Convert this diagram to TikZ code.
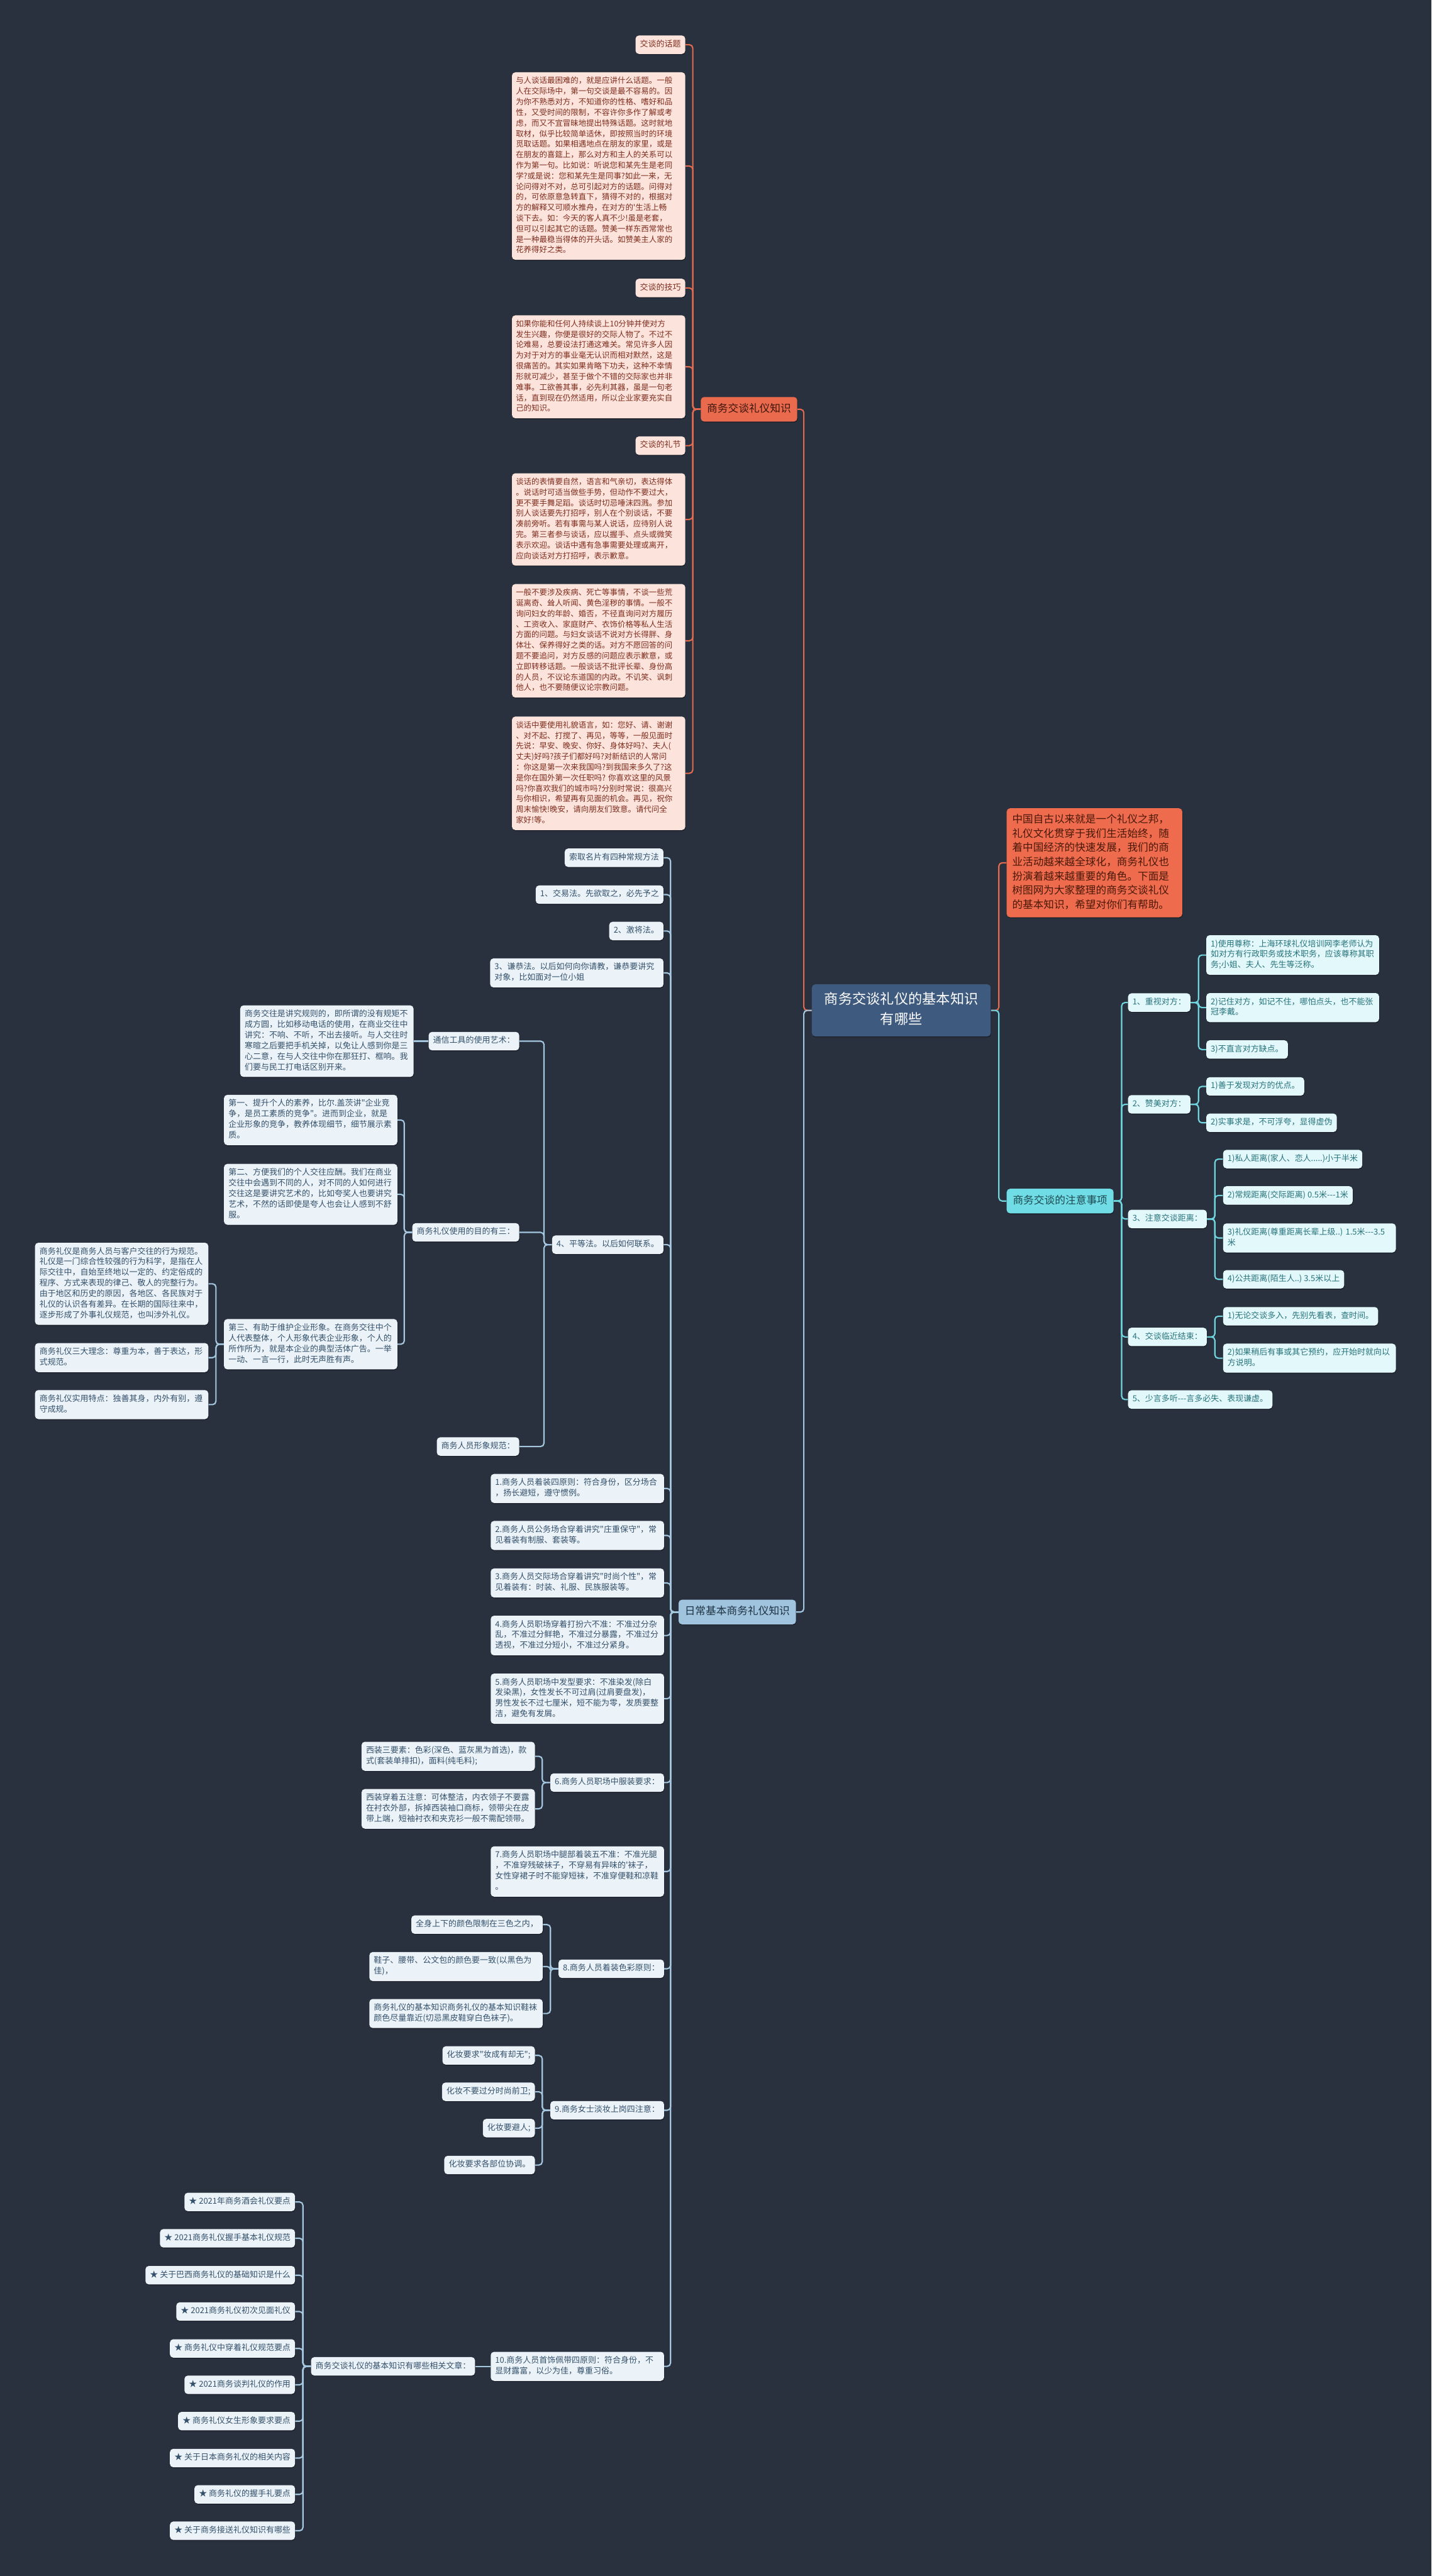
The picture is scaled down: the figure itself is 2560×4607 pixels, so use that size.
\documentclass[tikz,border=0pt]{standalone}
\usepackage{fontspec}
\newfontfamily\cjk{Noto Sans CJK SC}
\usetikzlibrary{shadows}
\definecolor{bg}{HTML}{29313F}
\definecolor{redline}{HTML}{E26B4F}
\definecolor{redn}{HTML}{EA6A4D}
\definecolor{redtext}{HTML}{3B150B}
\definecolor{pinkfill}{HTML}{FCE4DD}
\definecolor{pinktext}{HTML}{7E2C1C}
\definecolor{introfill}{HTML}{EE6C4D}
\definecolor{introtext}{HTML}{4A1808}
\definecolor{rootfill}{HTML}{3E5A7F}
\definecolor{cyanline}{HTML}{6FD5DE}
\definecolor{cyann}{HTML}{70DDE6}
\definecolor{cyandark}{HTML}{1D4850}
\definecolor{cyanfill}{HTML}{E3F8FA}
\definecolor{cyantext}{HTML}{26737C}
\definecolor{blueline}{HTML}{A4C6DE}
\definecolor{bluen}{HTML}{A0C4DD}
\definecolor{bluedark}{HTML}{1E3244}
\definecolor{bluefill}{HTML}{EBF3F9}
\definecolor{bluetext}{HTML}{34506A}
\newcommand\fLeaf{\cjk\fontsize{7.3pt}{9.5pt}\selectfont}
\newcommand\fPara{\cjk\fontsize{7pt}{9.45pt}\selectfont}
\newcommand\fOne{\cjk\fontsize{9.4pt}{12pt}\selectfont}
\newcommand\fIntro{\cjk\fontsize{9.35pt}{12.75pt}\selectfont}
\newcommand\fRoot{\cjk\fontsize{12.5pt}{18pt}\selectfont}
\tikzset{
 box/.style={rounded corners=3pt, inner xsep=4pt, inner ysep=3.5pt, align=left,
   execute at begin node=\strut, execute at end node=\strut,
   drop shadow={shadow xshift=0.4pt, shadow yshift=-0.8pt, opacity=0.35, fill=black}},
 bl/.style={box, fill=bluefill, text=bluetext, font=\fLeaf, anchor=east},
 blw/.style={bl, text width=147pt},
 cy/.style={box, fill=cyanfill, text=cyantext, font=\fLeaf, anchor=west},
 cyw/.style={cy, text width=146.5pt},
 pk/.style={box, fill=pinkfill, text=pinktext, font=\fLeaf, anchor=east},
 pp/.style={box, fill=pinkfill, text=pinktext, font=\fPara, anchor=east, inner xsep=3.5pt, text width=148pt},
 one/.style={box, font=\fOne, inner xsep=5.5pt, inner ysep=5pt},
 rl/.style={draw=redline, line width=1.2pt, rounded corners=3pt},
 cl/.style={draw=cyanline, line width=1.2pt, rounded corners=3pt},
 bline/.style={draw=blueline, line width=1.2pt, rounded corners=3pt},
}
\newcommand\conL[3]{\draw[#1] (#2.west) -- ++(-14,0) |- (#3.east);}
\newcommand\conR[3]{\draw[#1] (#2.east) -- ++(14,0) |- (#3.west);}
\begin{document}
\begin{tikzpicture}[x=0.5pt,y=-0.5pt]
\fill[bg] (0,0) rectangle (2560,4607);
\useasboundingbox (0,0) rectangle (2560,4607);

% root
\node[box, fill=rootfill, text=white, font=\fRoot, align=center, text width=139pt, inner xsep=10.5pt, inner ysep=5.25pt] (root) at (1612,1807) {商务交谈礼仪的基本知识\\有哪些};

% ---------- red branch ----------
\node[one, fill=redn, text=redtext, anchor=west] (R0) at (1253,732) {商务交谈礼仪知识};
\node[pk] (r1) at (1226,80) {交谈的话题};
\node[pp] (p1) at (1226,297) {与人谈话最困难的，就是应讲什么话题。一般\\人在交际场中，第一句交谈是最不容易的。因\\为你不熟悉对方，不知道你的性格、嗜好和品\\性，又受时间的限制，不容许你多作了解或考\\虑，而又不宜冒昧地提出特殊话题。这时就地\\取材，似乎比较简单适休，即按照当时的环境\\觅取话题。如果相遇地点在朋友的家里，或是\\在朋友的喜筵上，那么对方和主人的关系可以\\作为第一句。比如说：听说您和某先生是老同\\学?或是说：您和某先生是同事?如此一来，无\\论问得对不对，总可引起对方的话题。问得对\\的，可依原意急转直下，猜得不对的，根据对\\方的解释又可顺水推舟，在对方的'生活上畅\\谈下去。如：今天的客人真不少!虽是老套，\\但可以引起其它的话题。赞美一样东西常常也\\是一种最稳当得体的开头话。如赞美主人家的\\花养得好之类。};
\node[pk] (r2) at (1226,515) {交谈的技巧};
\node[pp] (p2) at (1226,656) {如果你能和任何人持续谈上10分钟并使对方\\发生兴趣，你便是很好的交际人物了。不过不\\论难易，总要设法打通这难关。常见许多人因\\为对于对方的事业毫无认识而相对默然，这是\\很痛苦的。其实如果肯略下功夫，这种不幸情\\形就可减少，甚至于做个不错的交际家也并非\\难事。工欲善其事，必先利其器，虽是一句老\\话，直到现在仍然适用，所以企业家要充实自\\己的知识。};
\node[pk] (r3) at (1226,797) {交谈的礼节};
\node[pp] (p3) at (1226,929) {谈话的表情要自然，语言和气亲切，表达得体\\。说话时可适当做些手势，但动作不要过大，\\更不要手舞足蹈。谈话时切忌唾沫四溅。参加\\别人谈话要先打招呼，别人在个别谈话，不要\\凑前旁听。若有事需与某人说话，应待别人说\\完。第三者参与谈话，应以握手、点头或微笑\\表示欢迎。谈话中遇有急事需要处理或离开，\\应向谈话对方打招呼，表示歉意。};
\node[pp] (p4) at (1226,1146) {一般不要涉及疾病、死亡等事情，不谈一些荒\\诞离奇、耸人听闻、黄色淫秽的事情。一般不\\询问妇女的年龄、婚否，不径直询问对方履历\\、工资收入、家庭财产、衣饰价格等私人生活\\方面的问题。与妇女谈话不说对方长得胖、身\\体壮、保养得好之类的话。对方不愿回答的问\\题不要追问，对方反感的问题应表示歉意，或\\立即转移话题。一般谈话不批评长辈、身份高\\的人员，不议论东道国的内政。不讥笑、讽刺\\他人，也不要随便议论宗教问题。};
\node[pp] (p5) at (1226,1383) {谈话中要使用礼貌语言，如：您好、请、谢谢\\、对不起、打搅了、再见，等等，一般见面时\\先说：早安、晚安、你好、身体好吗?、夫人(\\丈夫)好吗?孩子们都好吗?对新结识的人常问\\：你这是第一次来我国吗?到我国来多久了?这\\是你在国外第一次任职吗?~你喜欢这里的风景\\吗?你喜欢我们的城市吗?分别时常说：很高兴\\与你相识，希望再有见面的机会。再见，祝你\\周末愉快!晚安，请向朋友们致意。请代问全\\家好!等。};

% ---------- intro ----------
\node[box, fill=introfill, text=introtext, font=\fIntro, anchor=west, text width=147pt, inner xsep=5pt, inner ysep=4.1pt] (intro) at (1800,1543) {中国自古以来就是一个礼仪之邦，\\礼仪文化贯穿于我们生活始终，随\\着中国经济的快速发展，我们的商\\业活动越来越全球化，商务礼仪也\\扮演着越来越重要的角色。下面是\\树图网为大家整理的商务交谈礼仪\\的基本知识，希望对你们有帮助。};

% ---------- cyan branch ----------
\node[one, fill=cyann, text=cyandark, anchor=west] (C0) at (1800,2148) {商务交谈的注意事项};
\node[cy] (c1) at (2017,1793) {1、重视对方：};
\node[cyw] (c1a) at (2157,1708) {1)使用尊称：上海环球礼仪培训网李老师认为\\如对方有行政职务或技术职务，应该尊称其职\\务;小姐、夫人、先生等泛称。};
\node[cyw] (c1b) at (2157,1802) {2)记住对方，如记不住，哪怕点头，也不能张\\冠李戴。};
\node[cy] (c1c) at (2157,1877) {3)不直言对方缺点。};
\node[cy] (c2) at (2017,1975) {2、赞美对方：};
\node[cy] (c2a) at (2157,1943) {1)善于发现对方的优点。};
\node[cy] (c2b) at (2157,2008) {2)实事求是，不可浮夸，显得虚伪};
\node[cy] (c3) at (2017,2180) {3、注意交谈距离：};
\node[cy] (c3a) at (2187,2073) {1)私人距离(家人、恋人.....)小于半米};
\node[cy] (c3b) at (2187,2138) {2)常规距离(交际距离)~0.5米---1米};
\node[cyw] (c3c) at (2187,2214) {3)礼仪距离(尊重距离长辈上级..)~1.5米---3.5\\米};
\node[cy] (c3d) at (2187,2288) {4)公共距离(陌生人..)~3.5米以上};
\node[cy] (c4) at (2017,2391) {4、交谈临近结束：};
\node[cy] (c4a) at (2187,2354) {1)无论交谈多入，先别先看表，查时间。};
\node[cyw] (c4b) at (2187,2429) {2)如果稍后有事或其它预约，应开始时就向以\\方说明。};
\node[cy] (c5) at (2017,2503) {5、少言多听---言多必失、表现谦虚。};

% ---------- blue branch ----------
\node[one, fill=bluen, text=bluedark, anchor=east] (B0) at (1424,2883) {日常基本商务礼仪知识};
\node[bl] (b1) at (1187,1534) {索取名片有四种常规方法};
\node[bl] (b2) at (1187,1600) {1、交易法。先欲取之，必先予之};
\node[bl] (b3) at (1187,1665) {2、激将法。};
\node[blw] (b4) at (1187,1740) {3、谦恭法。以后如何向你请教，谦恭要讲究\\对象，比如面对一位小姐};
\node[bl] (b5) at (1187,2226) {4、平等法。以后如何联系。};
\node[bl] (b51) at (929,1862) {通信工具的使用艺术：};
\node[blw] (b511) at (740,1862) {商务交往是讲究规则的，即所谓的没有规矩不\\成方圆，比如移动电话的使用，在商业交往中\\讲究：不响、不听，不出去接听。与人交往时\\寒暄之后要把手机关掉，以免让人感到你是三\\心二意，在与人交往中你在那狂打、框响。我\\们要与民工打电话区别开来。};
\node[bl] (b52) at (929,2204) {商务礼仪使用的目的有三：};
\node[blw] (b521) at (711,2003) {第一、提升个人的素养，比尔.盖茨讲"企业竞\\争，是员工素质的竞争"。进而到企业，就是\\企业形象的竞争，教养体现细节，细节展示素\\质。};
\node[blw] (b522) at (711,2136) {第二、方便我们的个人交往应酬。我们在商业\\交往中会遇到不同的人，对不同的人如何进行\\交往这是要讲究艺术的，比如夸奖人也要讲究\\艺术，不然的话即使是夸人也会让人感到不舒\\服。};
\node[blw] (b523) at (711,2404) {第三、有助于维护企业形象。在商务交往中个\\人代表整体，个人形象代表企业形象，个人的\\所作所为，就是本企业的典型活体广告。一举\\一动、一言一行，此时无声胜有声。};
\node[blw] (b5231) at (373,2296) {商务礼仪是商务人员与客户交往的行为规范。\\礼仪是一门综合性较强的行为科学，是指在人\\际交往中，自始至终地以一定的、约定俗成的\\程序、方式来表现的律己、敬人的完整行为。\\由于地区和历史的原因，各地区、各民族对于\\礼仪的认识各有差异。在长期的国际往来中，\\逐步形成了外事礼仪规范，也叫涉外礼仪。};
\node[blw] (b5232) at (373,2428) {商务礼仪三大理念：尊重为本，善于表达，形\\式规范。};
\node[blw] (b5233) at (373,2512) {商务礼仪实用特点：独善其身，内外有别，遵\\守成规。};
\node[bl] (b53) at (929,2587) {商务人员形象规范：};
\node[blw] (b6) at (1188,2662) {1.商务人员着装四原则：符合身份，区分场合\\，扬长避短，遵守惯例。};
\node[blw] (b7) at (1188,2746) {2.商务人员公务场合穿着讲究"庄重保守"，常\\见着装有制服、套装等。};
\node[blw] (b8) at (1188,2831) {3.商务人员交际场合穿着讲究"时尚个性"，常\\见着装有：时装、礼服、民族服装等。};
\node[blw] (b9) at (1188,2925) {4.商务人员职场穿着打扮六不准：不准过分杂\\乱，不准过分鲜艳，不准过分暴露，不准过分\\透视，不准过分短小，不准过分紧身。};
\node[blw] (b10) at (1188,3038) {5.商务人员职场中发型要求：不准染发(除白\\发染黑)，女性发长不可过肩(过肩要盘发)，\\男性发长不过七厘米，短不能为零，发质要整\\洁，避免有发屑。};
\node[bl] (b11) at (1188,3188) {6.商务人员职场中服装要求：};
\node[blw] (b111) at (957,3141) {西装三要素：色彩(深色、蓝灰黑为首选)，款\\式(套装单排扣)，面料(纯毛料);};
\node[blw] (b112) at (957,3235) {西装穿着五注意：可体整洁，内衣领子不要露\\在衬衣外部，拆掉西装袖口商标，领带尖在皮\\带上端，短袖衬衣和夹克衫一般不需配领带。};
\node[blw] (b12) at (1188,3347) {7.商务人员职场中腿部着装五不准：不准光腿\\，不准穿残破袜子，不穿易有异味的'袜子，\\女性穿裙子时不能穿短袜，不准穿便鞋和凉鞋\\。};
\node[bl] (b13) at (1188,3521) {8.商务人员着装色彩原则：};
\node[bl] (b131) at (971,3442) {全身上下的颜色限制在三色之内，};
\node[blw] (b132) at (971,3517) {鞋子、腰带、公文包的颜色要一致(以黑色为\\佳)，};
\node[blw] (b133) at (971,3601) {商务礼仪的基本知识商务礼仪的基本知识鞋袜\\颜色尽量靠近(切忌黑皮鞋穿白色袜子)。};
\node[bl] (b14) at (1188,3774) {9.商务女士淡妆上岗四注意：};
\node[bl] (b141) at (957,3676) {化妆要求"妆成有却无";};
\node[bl] (b142) at (957,3741) {化妆不要过分时尚前卫;};
\node[bl] (b143) at (957,3806) {化妆要避人;};
\node[bl] (b144) at (957,3872) {化妆要求各部位协调。};
\node[blw] (b15) at (1188,4232) {10.商务人员首饰佩带四原则：符合身份，不\\显财露富，以少为佳，尊重习俗。};
\node[bl] (b151) at (850,4232) {商务交谈礼仪的基本知识有哪些相关文章：};
\node[bl] (s1) at (528,3938) {★ 2021年商务酒会礼仪要点};
\node[bl] (s2) at (528,4003) {★ 2021商务礼仪握手基本礼仪规范};
\node[bl] (s3) at (528,4069) {★ 关于巴西商务礼仪的基础知识是什么};
\node[bl] (s4) at (528,4134) {★ 2021商务礼仪初次见面礼仪};
\node[bl] (s5) at (528,4200) {★ 商务礼仪中穿着礼仪规范要点};
\node[bl] (s6) at (528,4265) {★ 2021商务谈判礼仪的作用};
\node[bl] (s7) at (528,4330) {★ 商务礼仪女生形象要求要点};
\node[bl] (s8) at (528,4396) {★ 关于日本商务礼仪的相关内容};
\node[bl] (s9) at (528,4461) {★ 商务礼仪的握手礼要点};
\node[bl] (s10) at (528,4526) {★ 关于商务接送礼仪知识有哪些};

% ---------- connectors ----------
\conL{rl}{root}{R0}
\conL{bline}{root}{B0}
\conR{rl}{root}{intro}
\conR{cl}{root}{C0}
\foreach \c in {r1,p1,r2,p2,r3,p3,p4,p5} {\conL{rl}{R0}{\c}}
\foreach \c in {c1,c2,c3,c4,c5} {\conR{cl}{C0}{\c}}
\foreach \c in {c1a,c1b,c1c} {\conR{cl}{c1}{\c}}
\foreach \c in {c2a,c2b} {\conR{cl}{c2}{\c}}
\foreach \c in {c3a,c3b,c3c,c3d} {\conR{cl}{c3}{\c}}
\foreach \c in {c4a,c4b} {\conR{cl}{c4}{\c}}
\foreach \c in {b1,b2,b3,b4,b5,b6,b7,b8,b9,b10,b11,b12,b13,b14,b15} {\conL{bline}{B0}{\c}}
\foreach \c in {b51,b52,b53} {\conL{bline}{b5}{\c}}
\draw[bline] (b51.west) -- (b511.east);
\foreach \c in {b521,b522,b523} {\conL{bline}{b52}{\c}}
\foreach \c in {b5231,b5232,b5233} {\conL{bline}{b523}{\c}}
\foreach \c in {b111,b112} {\conL{bline}{b11}{\c}}
\foreach \c in {b131,b132,b133} {\conL{bline}{b13}{\c}}
\foreach \c in {b141,b142,b143,b144} {\conL{bline}{b14}{\c}}
\draw[bline] (b15.west) -- (b151.east);
\foreach \c in {s1,s2,s3,s4,s5,s6,s7,s8,s9,s10} {\conL{bline}{b151}{\c}}
\end{tikzpicture}
\end{document}
